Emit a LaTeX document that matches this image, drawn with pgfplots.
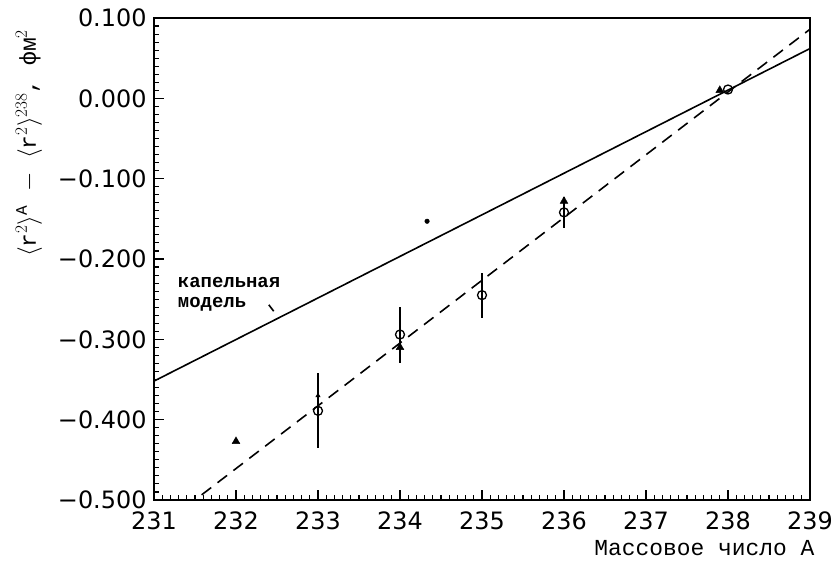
\documentclass[border=0pt]{standalone}
\usepackage{pgfplots}
\pgfplotsset{compat=1.18}
\usepackage{fontspec}
\setmainfont{Liberation Mono}
\newfontfamily\tickfont{DejaVu Sans}
\newfontfamily\labfont{Liberation Mono}
\begin{document}
\begin{tikzpicture}
\begin{axis}[
  scale only axis, width=656bp, height=482bp,
  xmin=231, xmax=239, ymin=-0.5, ymax=0.1,
  xtick={231,232,233,234,235,236,237,238,239},
  xticklabels={231,232,233,234,235,236,237,238,239},
  ytick={-0.5,-0.4,-0.3,-0.2,-0.1,0,0.1},
  yticklabels={−0.500,−0.400,−0.300,−0.200,−0.100,0.000,0.100},
  tick pos=left, major tick length=0pt, minor tick length=0pt,
  axis line style={line width=1.8bp},
  tick label style={font=\tickfont\fontsize{24}{24}\selectfont},
  xticklabel style={yshift=-8bp},
  yticklabel style={xshift=-4bp},
  every axis y label/.style={at={(axis description cs:0,0.74)}, xshift=-125bp, anchor=center, rotate=90},
  every axis x label/.style={at={(axis description cs:1,0)}, anchor=east, xshift=8bp, yshift=-48bp},
  label style={font=\labfont\fontsize{23}{23}\selectfont},
  ylabel={$\langle$r$^{2}\rangle^{\mathrm{A}}$ $-$ $\langle$r$^{2}\rangle^{238}$, фм$^{2}$},
  xlabel={Массовое число А},
  clip=true,
]
% liquid drop model (solid)
\addplot[black, line width=1.6bp] coordinates {(231,-0.352) (239,0.062)};
% fit (dashed)
\addplot[black, line width=1.6bp, dash pattern=on 12bp off 8bp] coordinates {(231,-0.539) (239,0.086)};
% open circles with error bars
\addplot[black, line width=1.3bp, only marks, mark=o, mark size=4.5bp,
  error bars/.cd, y dir=both, y explicit, error mark=none,
  error bar style={line width=1.4bp}]
  coordinates {
  (233,-0.389) += (0,0.047) -= (0,0.046)
  (234,-0.294) += (0,0.034) -= (0,0.036)
  (235,-0.245) += (0,0.028) -= (0,0.029)
  (236,-0.142) += (0,0.019) -= (0,0.019)
  (238,0.011) +- (0,0)
  };
% filled triangles
\addplot[black, only marks, mark=triangle*, mark size=4.5bp]
  coordinates {(232,-0.427) (234,-0.310) (236,-0.128) (237.9,0.010)};
\addplot[black, only marks, mark=triangle*, mark size=2.5bp]
  coordinates {(233,-0.370)};
% stray dot
\addplot[black, only marks, mark=*, mark size=2.3bp]
  coordinates {(234.33,-0.153)};
% pointer from label
\addplot[black, line width=1.6bp] coordinates {(232.40,-0.257) (232.46,-0.265)};
\node[anchor=base west, font=\labfont\bfseries\fontsize{19}{19}\selectfont, inner sep=0pt] at (axis cs:231.29,-0.235) {капельная};
\node[anchor=base west, font=\labfont\bfseries\fontsize{19}{19}\selectfont, inner sep=0pt] at (axis cs:231.29,-0.260) {модель};
\end{axis}
% inward ticks on the bottom edge (y in bp above the edge)
\begin{axis}[
  scale only axis, width=656bp, height=482bp,
  xmin=231, xmax=239, ymin=0, ymax=482, hide axis, clip=false,
]
\addplot[ycomb, black, line width=1.1bp, mark=none] coordinates {
  (231.1,5) (231.2,5) (231.3,5) (231.4,5) (231.5,5) (231.6,5) (231.7,5) (231.8,5) (231.9,5)
  (232.1,5) (232.2,5) (232.3,5) (232.4,5) (232.5,5) (232.6,5) (232.7,5) (232.8,5) (232.9,5)
  (233.1,5) (233.2,5) (233.3,5) (233.4,5) (233.5,5) (233.6,5) (233.7,5) (233.8,5) (233.9,5)
  (234.1,5) (234.2,5) (234.3,5) (234.4,5) (234.5,5) (234.6,5) (234.7,5) (234.8,5) (234.9,5)
  (235.1,5) (235.2,5) (235.3,5) (235.4,5) (235.5,5) (235.6,5) (235.7,5) (235.8,5) (235.9,5)
  (236.1,5) (236.2,5) (236.3,5) (236.4,5) (236.5,5) (236.6,5) (236.7,5) (236.8,5) (236.9,5)
  (237.1,5) (237.2,5) (237.3,5) (237.4,5) (237.5,5) (237.6,5) (237.7,5) (237.8,5) (237.9,5)
  (238.1,5) (238.2,5) (238.3,5) (238.4,5) (238.5,5) (238.6,5) (238.7,5) (238.8,5) (238.9,5)
  };
\addplot[ycomb, black, line width=1.3bp, mark=none] coordinates {
  (232,10) (233,10) (234,10) (235,10) (236,10) (237,10) (238,10)
  };
\end{axis}
% inward ticks on the left edge (x in bp right of the edge)
\begin{axis}[
  scale only axis, width=656bp, height=482bp,
  xmin=0, xmax=656, ymin=-0.5, ymax=0.1, hide axis, clip=false,
]
\addplot[xcomb, black, line width=1.1bp, mark=none] coordinates {
  (5,-0.49) (5,-0.48) (5,-0.47) (5,-0.46) (5,-0.45) (5,-0.44) (5,-0.43) (5,-0.42) (5,-0.41)
  (5,-0.39) (5,-0.38) (5,-0.37) (5,-0.36) (5,-0.35) (5,-0.34) (5,-0.33) (5,-0.32) (5,-0.31)
  (5,-0.29) (5,-0.28) (5,-0.27) (5,-0.26) (5,-0.25) (5,-0.24) (5,-0.23) (5,-0.22) (5,-0.21)
  (5,-0.19) (5,-0.18) (5,-0.17) (5,-0.16) (5,-0.15) (5,-0.14) (5,-0.13) (5,-0.12) (5,-0.11)
  (5,-0.09) (5,-0.08) (5,-0.07) (5,-0.06) (5,-0.05) (5,-0.04) (5,-0.03) (5,-0.02) (5,-0.01)
  (5,0.01) (5,0.02) (5,0.03) (5,0.04) (5,0.05) (5,0.06) (5,0.07) (5,0.08) (5,0.09)
  };
\addplot[xcomb, black, line width=1.3bp, mark=none] coordinates {
  (10,-0.4) (10,-0.3) (10,-0.2) (10,-0.1) (10,0)
  };
\end{axis}
\pgfresetboundingbox
\path[use as bounding box] (-154bp,-63bp) rectangle (679bp,500bp);
\end{tikzpicture}
\end{document}
